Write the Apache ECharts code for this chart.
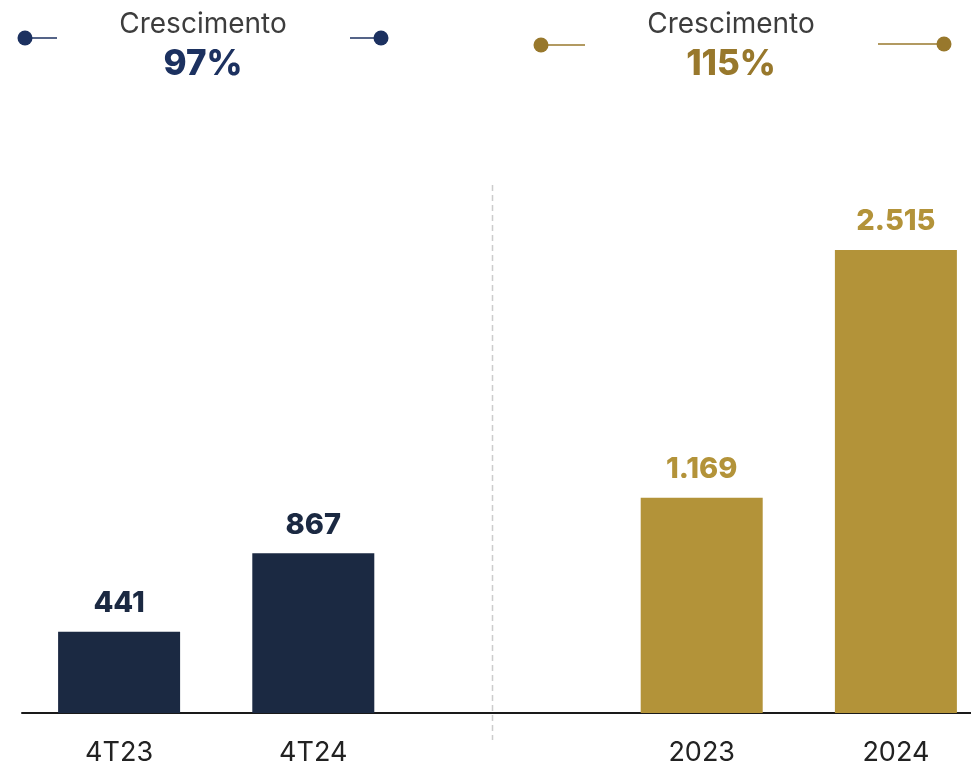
<!DOCTYPE html>
<html>
<head>
<meta charset="utf-8">
<script src="https://cdn.jsdelivr.net/npm/echarts@6/dist/echarts.min.js"></script>
<style>
html,body{margin:0;padding:0;background:#fff;}
#chart{width:971px;height:764px;}
</style>
</head>
<body>
<div id="chart"></div>
<script>
const categories = ['4T23', '4T24', '', '2023', '2024'];
const quarterValues = [441, 867, '-', '-', '-'];
const yearValues = ['-', '-', '-', 1169, 2515];
const growthLabel = 'Crescimento';
const quarterGrowth = '97%';
const yearGrowth = '115%';

const NAVY = '#1b2942';
const GOLD = '#b39339';
const FONT = 'Inter, "Noto Sans", sans-serif';

function fmt(v) {
  return String(v).replace(/\B(?=(\d{3})+(?!\d))/g, '.');
}

const chart = echarts.init(document.getElementById('chart'), null, {renderer: 'canvas'});

function labelFor(color) {
  return {
    show: true,
    position: 'top',
    distance: 14,
    fontFamily: FONT,
    fontWeight: 800,
    fontSize: 29,
    color: color,
    formatter: p => fmt(p.value)
  };
}

chart.setOption({
  animation: false,
  backgroundColor: '#fff',
  grid: {left: 22, right: -22, top: 179, bottom: 51, containLabel: false, outerBoundsMode: 'none'},
  xAxis: {
    type: 'category',
    data: categories,
    axisLine: {lineStyle: {color: '#1a1a1a', width: 2}},
    axisTick: {show: false},
    axisLabel: {fontFamily: FONT, fontSize: 27, color: '#222', margin: 26}
  },
  yAxis: {
    type: 'value', min: 0, max: 2900,
    show: false, splitLine: {show: false}
  },
  series: [
    {
      type: 'bar', stack: 's', data: quarterValues, barWidth: 122,
      itemStyle: {color: NAVY}, label: labelFor(NAVY)
    },
    {
      type: 'bar', stack: 's', data: yearValues, barWidth: 122,
      itemStyle: {color: GOLD}, label: labelFor(GOLD)
    }
  ]
});

// header and divider decorations, positioned relative to the axis
const p1 = chart.convertToPixel({gridIndex: 0}, [1, 0]);
const p2 = chart.convertToPixel({gridIndex: 0}, [2, 0]);
const divX = Math.round(p1[0] + 0.918 * (p2[0] - p1[0])) + 0.5;
const topY = chart.convertToPixel({gridIndex: 0}, [0, 2868])[1];

function header(cx, value, color, dotY1, dotY2, lx1, lx2, rx1, rx2) {
  return [
    {type: 'text', style: {text: growthLabel, x: cx, y: 25, align: 'center', verticalAlign: 'middle',
      font: '400 28px ' + FONT, fill: '#3d3d3d'}},
    {type: 'text', style: {text: value, x: cx, y: 64, align: 'center', verticalAlign: 'middle',
      font: '800 35px ' + FONT, fill: color}},
    {type: 'line', shape: {x1: lx1, y1: dotY1, x2: lx2, y2: dotY1}, style: {stroke: color, lineWidth: 1.5}},
    {type: 'circle', shape: {cx: lx1, cy: dotY1, r: 7.5}, style: {fill: color}},
    {type: 'line', shape: {x1: rx1, y1: dotY2, x2: rx2, y2: dotY2}, style: {stroke: color, lineWidth: 1.5}},
    {type: 'circle', shape: {cx: rx2, cy: dotY2, r: 7.5}, style: {fill: color}}
  ];
}

chart.setOption({
  graphic: [
    {type: 'line', shape: {x1: divX, y1: topY, x2: divX, y2: 740},
      style: {stroke: '#cccccc', lineWidth: 1.5, lineDash: [6, 4]}, z: -1},
    ...header(203, quarterGrowth, '#1c3160', 38, 38, 25, 57, 350, 381),
    ...header(731, yearGrowth, '#98782c', 45, 44, 541, 585, 878, 944)
  ]
});
</script>
</body>
</html>
